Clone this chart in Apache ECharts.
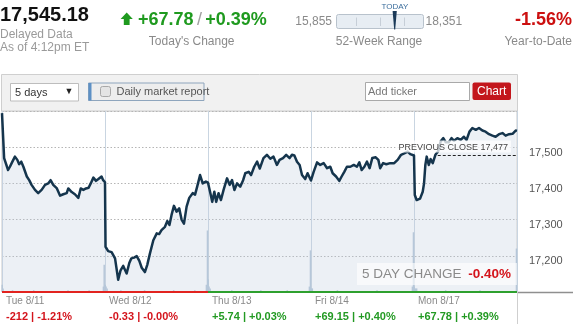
<!DOCTYPE html>
<html><head><meta charset="utf-8">
<script src="https://cdn.jsdelivr.net/npm/echarts@6/dist/echarts.min.js"></script>
<style>html,body{margin:0;padding:0;background:#fff}#c{width:575px;height:324px}</style>
</head><body><div id="c"></div>
<script>
// ---------- data ----------
const dayLabels = ['Tue 8/11', 'Wed 8/12', 'Thu 8/13', 'Fri 8/14', 'Mon 8/17'];
const dayChanges = ['-212', '-0.33', '+5.74', '+69.15', '+67.78'];
const dayPctChanges = ['-1.21%', '-0.00%', '+0.03%', '+0.40%', '+0.39%'];
const minutesPerDay = 390;
const yTicks = [17200, 17300, 17400, 17500];
const yMin = 17100, yMax = 17600;
const prevClose = 17477;
const fiveDayChange = '-0.40%';

// intraday prices: [minute since open, price]
const day1 = [[0,17594],[8,17470],[15,17465],[23,17437],[30,17446],[38,17458],[49,17474],[58,17465],[65,17453],[73,17460],[81,17446],[94,17419],[103,17409],[112,17396],[125,17382],[137,17373],[150,17382],[163,17396],[175,17400],[184,17409],[194,17396],[207,17387],[220,17366],[232,17370],[245,17373],[251,17386],[264,17376],[276,17370],[289,17360],[298,17386],[308,17382],[318,17386],[328,17388],[336,17400],[346,17416],[356,17407],[365,17412],[377,17419],[383,17409],[390,17403]];
const day2 = [[0,17400],[2,17225],[12,17213],[25,17210],[38,17193],[50,17134],[59,17160],[69,17172],[82,17151],[92,17180],[100,17193],[110,17195],[120,17199],[130,17186],[139,17167],[151,17155],[160,17175],[170,17206],[183,17243],[196,17262],[205,17260],[214,17271],[227,17280],[236,17296],[244,17285],[252,17313],[261,17338],[271,17322],[281,17331],[290,17300],[299,17289],[309,17336],[319,17360],[332,17373],[341,17369],[349,17391],[360,17423],[370,17400],[382,17405],[390,17402]];
const day3 = [[0,17400],[9,17373],[16,17349],[24,17377],[31,17349],[40,17373],[49,17354],[59,17382],[72,17414],[82,17396],[91,17409],[100,17382],[110,17400],[122,17391],[133,17409],[141,17428],[154,17432],[163,17423],[175,17446],[186,17460],[196,17441],[210,17470],[223,17479],[236,17468],[248,17474],[261,17451],[271,17465],[284,17470],[296,17479],[309,17470],[318,17479],[327,17477],[337,17460],[347,17451],[356,17423],[368,17412],[377,17428],[390,17408]];
const day4 = [[0,17409],[10,17432],[23,17458],[35,17451],[48,17456],[61,17442],[73,17446],[82,17428],[95,17419],[107,17407],[116,17419],[126,17432],[136,17446],[149,17446],[162,17451],[174,17446],[183,17458],[192,17437],[202,17446],[212,17460],[222,17442],[232,17470],[245,17472],[255,17465],[262,17442],[273,17456],[285,17453],[300,17456],[315,17456],[328,17465],[341,17479],[353,17483],[366,17488],[376,17481],[390,17477]];
const day5 = [[0,17479],[3,17368],[10,17354],[23,17358],[33,17377],[38,17400],[43,17451],[48,17474],[56,17451],[63,17467],[71,17456],[81,17479],[91,17488],[101,17516],[111,17525],[120,17514],[132,17514],[142,17525],[151,17518],[164,17525],[177,17520],[189,17529],[199,17520],[210,17543],[221,17553],[234,17548],[246,17553],[259,17546],[271,17543],[284,17536],[297,17532],[309,17529],[322,17536],[335,17539],[347,17532],[360,17536],[373,17537],[385,17546],[390,17545]];
const days = [day1, day2, day3, day4, day5];

// relative volume: [minute since open, volume]
const vol1 = [[1,4],[4,2],[40,1],[120,1],[250,1],[330,1],[384,3],[387,15]];
const vol2 = [[1,4],[4,3],[8,2],[60,1],[150,1],[260,1],[340,1],[384,4],[388,34]];
const vol3 = [[1,7],[4,3],[8,2],[90,1],[200,1],[300,1],[384,3],[388,23]];
const vol4 = [[1,2],[5,2],[100,1],[250,1],[384,3],[388,33]];
const vol5 = [[1,3],[5,2],[10,2],[120,1],[250,1],[388,24]];
const vols = [vol1, vol2, vol3, vol4, vol5];

// ---------- build ----------
const priceData = [];
days.forEach((d, i) => d.forEach(([m, v]) => priceData.push([i * minutesPerDay + m, v])));
const volData = [];
vols.forEach((d, i) => d.forEach(([m, v]) => volData.push([i * minutesPerDay + m, v])));

const RED = '#d4141c', GREEN = '#239a23';
const bottomLines = dayChanges.map((c, i) => {
  const col = c.startsWith('-') ? '#e2231f' : '#2ea02e';
  return [{coord: [i * minutesPerDay, 0], lineStyle: {color: col, width: 2, type: 'solid'}},
          {coord: [(i + 1) * minutesPerDay, 0]}];
});

const chart = echarts.init(document.getElementById('c'), null, {renderer: 'canvas'});
const fmt = v => v.toLocaleString('en-US');
const txt = (text, x, y, font, fill, align) => ({type: 'text', silent: true, style: {text, x, y, font, fill, textAlign: align || 'left', textVerticalAlign: 'middle'}});

chart.setOption({
  animation: false,
  backgroundColor: '#fff',
  grid: {left: 2, right: 58, top: 111, bottom: 32, show: true, borderColor: '#c9c9c9', borderWidth: 1, backgroundColor: '#fff', containLabel: false, outerBoundsMode: 'none'},
  xAxis: {
    type: 'value', min: 0, max: minutesPerDay * days.length, interval: minutesPerDay,
    axisLine: {show: false}, axisTick: {show: false},
    splitLine: {show: true, lineStyle: {color: '#c9d5e1', width: 1, type: 'solid'}},
    axisLabel: {
      show: true, showMaxLabel: false, align: 'left', margin: 2, padding: [0, 0, 0, 4],
      formatter: v => {
        const i = Math.round(v / minutesPerDay);
        if (i >= days.length) return '';
        const k = dayChanges[i].startsWith('-') ? 'n' : 'p';
        return '{d|' + dayLabels[i] + '}\n{' + k + '|' + dayChanges[i] + ' | ' + dayPctChanges[i] + '}';
      },
      rich: {
        d: {fontSize: 10, color: '#8a8a8a', fontFamily: 'Arial', lineHeight: 15},
        n: {fontSize: 11, fontWeight: 'bold', color: RED, fontFamily: 'Arial', lineHeight: 15},
        p: {fontSize: 11, fontWeight: 'bold', color: GREEN, fontFamily: 'Arial', lineHeight: 15}
      }
    }
  },
  yAxis: [{
    type: 'value', position: 'right', min: yMin, max: yMax, interval: 100,
    axisLine: {show: false}, axisTick: {show: false},
    splitLine: {show: true, lineStyle: {color: '#b5b5b5', type: [1.5, 2], width: 1}},
    axisLabel: {
      margin: 12, color: '#555', fontSize: 11, fontFamily: 'Arial', verticalAlign: 'top',
      formatter: v => yTicks.includes(v) ? fmt(v) : ''
    }
  }, {
    type: 'value', min: 0, max: 100, show: false, splitLine: {show: false}
  }],
  series: [{
    type: 'bar', name: 'volume', yAxisIndex: 1, data: volData, barWidth: 1.5,
    itemStyle: {color: '#b3c5d7'}, silent: true, z: 1,
    markLine: {silent: true, symbol: ['none', 'none'], label: {show: false}, data: bottomLines, z: 5}
  }, {
    type: 'line', name: 'price', data: priceData, showSymbol: false, symbol: 'none',
    lineStyle: {color: '#15354d', width: 2.5, join: 'round'},
    areaStyle: {color: 'rgba(190,205,222,0.42)', origin: 'start'},
    silent: true, z: 3,
    markLine: {
      silent: true, symbol: ['none', 'none'],
      data: [[{coord: [4 * minutesPerDay + 90, prevClose]}, {coord: [5 * minutesPerDay, prevClose]}]],
      lineStyle: {color: '#222', type: [3, 2], width: 1},
      label: {
        show: true, position: 'insideEndTop', distance: [6, 3],
        formatter: 'PREVIOUS CLOSE ' + fmt(prevClose),
        fontSize: 9, fontFamily: 'Arial', color: '#444',
        backgroundColor: 'rgba(255,255,255,0.75)', padding: [2, 3, 1, 3]
      }
    }
  }],
  graphic: [
    // header
    txt('17,545.18', 0, 15, 'bold 20px Arial', '#111'),
    txt('Delayed Data', 0, 34.5, '12px Arial', '#9a9a9a'),
    txt('As of 4:12pm ET', 0, 48, '12px Arial', '#9a9a9a'),
    {type: 'polygon', silent: true, shape: {points: [[126.7,12.5],[132.8,19],[129.6,19],[129.6,25],[123.8,25],[123.8,19],[120.6,19]]}, style: {fill: '#1f9a1f'}},
    {type: 'text', silent: true, style: {x: 138, y: 20, text: '{g|+67.78} {s|/} {g|+0.39%}', textVerticalAlign: 'middle',
      rich: {g: {font: 'bold 18px Arial', fill: '#1f9a1f'}, s: {font: '18px Arial', fill: '#a0a0a0'}}}},
    txt("Today's Change", 191.7, 42, '12px Arial', '#8a8a8a', 'center'),
    txt('15,855', 332, 21.7, '12px Arial', '#8a8a8a', 'right'),
    {type: 'rect', silent: true, shape: {x: 336.5, y: 14.5, width: 87, height: 14, r: 2}, style: {fill: '#e7edf3', stroke: '#b8c2cc', lineWidth: 1}},
    {type: 'line', silent: true, shape: {x1: 356.5, y1: 17.5, x2: 356.5, y2: 26}, style: {stroke: '#c6ced7'}},
    {type: 'line', silent: true, shape: {x1: 380.5, y1: 17.5, x2: 380.5, y2: 26}, style: {stroke: '#c6ced7'}},
    {type: 'line', silent: true, shape: {x1: 404.5, y1: 17.5, x2: 404.5, y2: 26}, style: {stroke: '#c6ced7'}},
    {type: 'polygon', silent: true, shape: {points: [[392.6,11],[396.8,11],[395.2,29.5],[394.2,29.5]]}, style: {fill: '#1b3a58'}},
    txt('TODAY', 395, 6.5, '8px Arial', '#3b6d9c', 'center'),
    txt('18,351', 425.5, 21.7, '12px Arial', '#8a8a8a'),
    txt('52-Week Range', 379, 41.5, '12px Arial', '#8a8a8a', 'center'),
    txt('-1.56%', 572, 20.5, 'bold 18px Arial', '#cc1010', 'right'),
    txt('Year-to-Date', 572, 41.5, '12px Arial', '#8a8a8a', 'right'),
    // toolbar
    {type: 'rect', silent: true, shape: {x: 1.5, y: 74.5, width: 516, height: 36.5}, style: {fill: '#f1f1f1', stroke: '#cfcfcf', lineWidth: 1}},
    {type: 'rect', silent: true, shape: {x: 10.5, y: 83.5, width: 68, height: 17.5}, style: {fill: '#fff', stroke: '#bdbdbd', lineWidth: 1}},
    txt('5 days', 15, 92.5, '11px Arial', '#333'),
    txt('\u25BC', 69, 92, '9px Arial', '#222', 'center'),
    {type: 'rect', silent: true, shape: {x: 88.5, y: 83, width: 115.5, height: 17.5}, style: {fill: '#ededed', stroke: '#8ea5bd', lineWidth: 1}},
    {type: 'rect', silent: true, shape: {x: 88.5, y: 83, width: 3, height: 17.5}, style: {fill: '#5d90c5'}},
    {type: 'rect', silent: true, shape: {x: 100.5, y: 86.5, width: 10, height: 10, r: 2}, style: {fill: '#e4e4e4', stroke: '#a8a8a8', lineWidth: 1}},
    txt('Daily market report', 116.5, 92, '11px Arial', '#555'),
    {type: 'rect', silent: true, shape: {x: 365.5, y: 82.5, width: 104, height: 18}, style: {fill: '#fff', stroke: '#a9a9a9', lineWidth: 1}},
    txt('Add ticker', 368, 92, '11px Arial', '#777'),
    {type: 'rect', silent: true, shape: {x: 472.5, y: 82.5, width: 38.5, height: 17.5, r: 2}, style: {fill: '#c3161c'}},
    txt('Chart', 491.7, 91.2, '12px Arial', '#fff', 'center'),
    // frame extensions
    {type: 'line', silent: true, shape: {x1: 517.5, y1: 292, x2: 517.5, y2: 324}, style: {stroke: '#cfcfcf', lineWidth: 1}},
    {type: 'line', silent: true, shape: {x1: 518, y1: 292.5, x2: 573, y2: 292.5}, style: {stroke: '#8f8f8f', lineWidth: 1.5}},
    // 5 day change box
    {type: 'rect', silent: true, z: 100, shape: {x: 357, y: 263, width: 160, height: 22}, style: {fill: 'rgba(255,255,255,0.62)'}},
    {type: 'text', silent: true, z: 101, style: {x: 362, y: 274, text: '{a|5 DAY CHANGE}  {b|' + fiveDayChange + '}', textVerticalAlign: 'middle',
      rich: {a: {font: '13.5px Arial', fill: '#8a8a8a'}, b: {font: 'bold 13.5px Arial', fill: '#d4141c'}}}}
  ]
});
</script>
</body></html>
